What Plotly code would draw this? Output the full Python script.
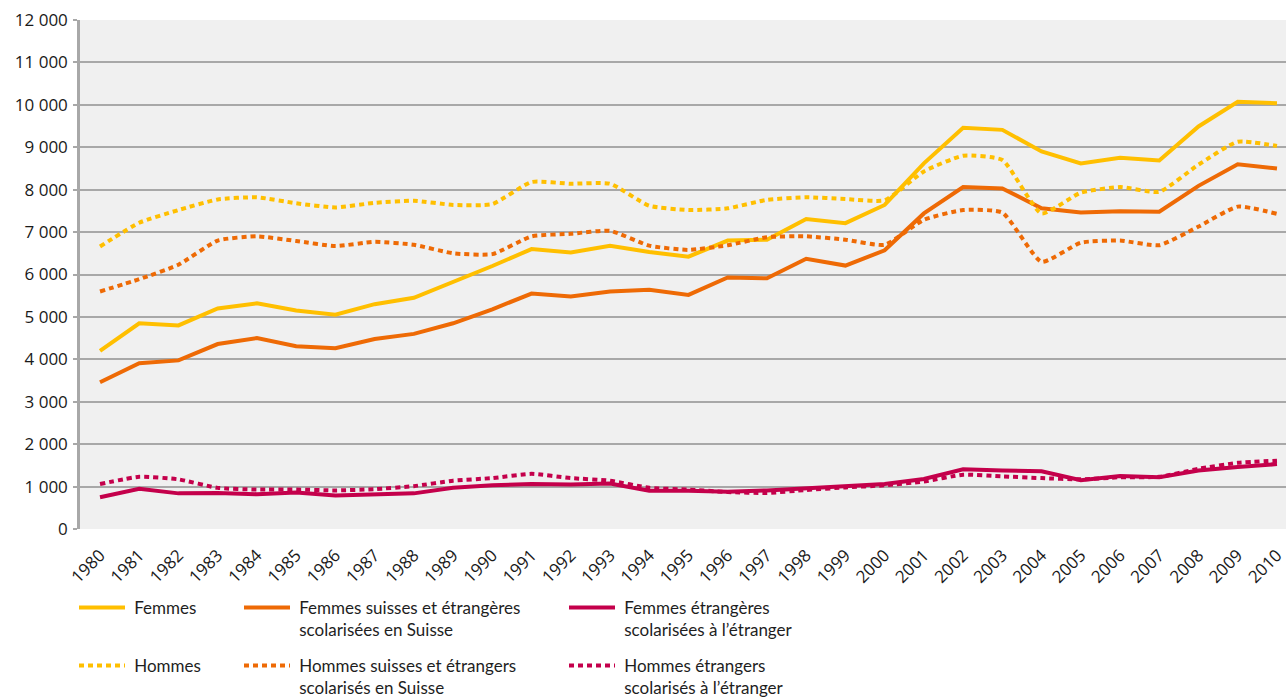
import plotly.graph_objects as go

years = list(range(1980, 2011))

femmes = [4200, 4850, 4800, 5200, 5320, 5150, 5050, 5300, 5450, 5820, 6200,
          6600, 6520, 6680, 6530, 6420, 6800, 6820, 7310, 7210, 7640,
          8620, 9460, 9410, 8900, 8620, 8750, 8690, 9490, 10070, 10040]
femmes_suisse = [3460, 3910, 3975, 4360, 4500, 4310, 4260, 4480, 4600, 4850, 5180,
                 5550, 5480, 5600, 5640, 5520, 5930, 5910, 6370, 6210, 6570,
                 7440, 8060, 8030, 7560, 7460, 7490, 7480, 8090, 8600, 8500]
femmes_etranger = [750, 950, 840, 850, 820, 860, 790, 820, 840, 970, 1030,
                   1060, 1050, 1070, 900, 900, 880, 910, 960, 1010, 1060,
                   1180, 1410, 1380, 1360, 1150, 1250, 1220, 1380, 1460, 1530]
hommes = [6660, 7220, 7520, 7770, 7820, 7680, 7580, 7690, 7740, 7640, 7660,
          8180, 8140, 8140, 7620, 7520, 7560, 7760, 7820, 7780, 7750,
          8430, 8800, 8700, 7440, 7930, 8060, 7950, 8590, 9130, 9030]
hommes_suisse = [5600, 5890, 6230, 6800, 6900, 6790, 6670, 6770, 6700, 6500, 6480,
                 6900, 6960, 7030, 6680, 6580, 6690, 6880, 6900, 6820, 6700,
                 7290, 7520, 7460, 6300, 6750, 6800, 6690, 7130, 7600, 7430]
hommes_etranger = [1060, 1230, 1170, 970, 930, 930, 910, 940, 1010, 1140, 1200,
                   1300, 1200, 1140, 970, 930, 870, 850, 920, 980, 1030,
                   1120, 1280, 1240, 1200, 1170, 1220, 1230, 1420, 1560, 1610]

SP = "\u2005"
names = [
    SP + "Femmes",
    SP + "Femmes suisses et étrangères<br>" + SP + "scolarisées en Suisse",
    SP + "Femmes étrangères<br>" + SP + "scolarisées à l’étranger",
    SP + "Hommes",
    SP + "Hommes suisses et étrangers<br>" + SP + "scolarisés en Suisse",
    SP + "Hommes étrangers<br>" + SP + "scolarisés à l’étranger",
]
series = [femmes, femmes_suisse, femmes_etranger, hommes, hommes_suisse, hommes_etranger]

YELLOW = "#FFBF00"
ORANGE = "#EE6A05"
CRIMSON = "#C4004B"
colors = [YELLOW, ORANGE, CRIMSON, YELLOW, ORANGE, CRIMSON]
dashes = ["solid", "solid", "solid", "5px,4px", "5px,4px", "5px,4px"]
legend_ids = ["legend", "legend2", "legend3", "legend4", "legend5", "legend6"]

fig = go.Figure()
for i, (nm, vals) in enumerate(zip(names, series)):
    dotted = i >= 3
    fig.add_trace(go.Scatter(
        x=years, y=vals, name=nm, mode="lines",
        line=dict(color=colors[i], width=4, dash=dashes[i],
                  shape="spline" if dotted else "linear",
                  smoothing=0.5 if dotted else None),
        legend=legend_ids[i], showlegend=True,
    ))

W, H = 1286, 699
ML, MR, MT, MB = 80, 0, 20, 170
pw = W - ML - MR
ph = H - MT - MB

def px_to_paper_x(px):
    return (px - ML) / pw

def px_to_paper_y(py):
    return (H - MB - py) / ph

legend_font = dict(family="Lato, Open Sans, sans-serif", size=17, color="#1e1e1e")
col_x = [74, 239, 564]
row_y = [590, 648]
legend_layout = {}
for i, lid in enumerate(legend_ids):
    r, c = divmod(i, 3)
    legend_layout[lid] = dict(
        x=px_to_paper_x(col_x[c]), y=px_to_paper_y(row_y[r]),
        xanchor="left", yanchor="top", xref="paper", yref="paper",
        bgcolor="rgba(0,0,0,0)", borderwidth=0, font=legend_font,
        valign="top", itemwidth=46, tracegroupgap=0,
    )

fig.update_layout(
    width=W, height=H,
    margin=dict(l=ML, r=MR, t=MT, b=MB, pad=0, autoexpand=False),
    paper_bgcolor="white",
    plot_bgcolor="#F0F0F0",
    separators=", ",
    showlegend=True,
    **legend_layout,
)

fig.update_xaxes(
    range=[1979.49, 2010.23],
    tickmode="array", tickvals=years, ticktext=[str(y) for y in years],
    tickangle=-45, showgrid=False, zeroline=False,
    showline=False, ticks="",
    ticklabelstandoff=12, ticklabeloverflow="allow",
    automargin=False,
    tickfont=dict(family="Open Sans, sans-serif", size=17, color="#1a1a1a"),
    fixedrange=True,
)
fig.update_yaxes(
    range=[0, 12000], tickmode="linear", tick0=0, dtick=1000,
    tickformat=",d",
    showgrid=True, gridcolor="#A8A8A8", gridwidth=1.5,
    zeroline=False,
    showline=True, linecolor="#A8A8A8", linewidth=2.5,
    ticks="outside", ticklen=4, tickcolor="#A8A8A8", tickwidth=1.5,
    ticklabelstandoff=2, automargin=False,
    tickfont=dict(family="Open Sans, sans-serif", size=17, color="#1a1a1a"),
    fixedrange=True,
)

fig.write_html(
    "out.html",
    config={"displayModeBar": False},
    post_script="document.body.style.margin='0';document.body.style.overflow='hidden';",
)
